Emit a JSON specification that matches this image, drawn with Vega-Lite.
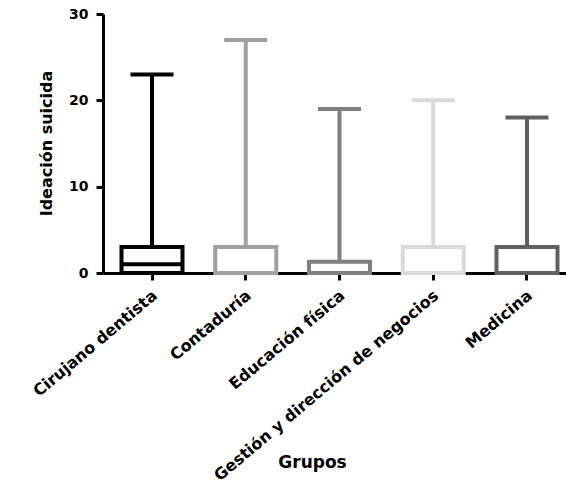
{
  "$schema": "https://vega.github.io/schema/vega-lite/v6.json",
  "width": 463,
  "height": 259,
  "autosize": {"type": "none"},
  "padding": {"left": 103, "top": 14, "right": 0, "bottom": 231},
  "background": "white",
  "config": {"view": {"stroke": null}, "font": "DejaVu Sans"},
  "data": {"values": [
    {"grupo": "Cirujano dentista", "q1": 0, "median": 1, "q3": 3, "max": 23},
    {"grupo": "Contaduría", "q1": 0, "median": 0, "q3": 3, "max": 27},
    {"grupo": "Educación física", "q1": 0, "median": 0, "q3": 1.3, "max": 19},
    {"grupo": "Gestión y dirección de negocios", "q1": 0, "median": 0, "q3": 3, "max": 20},
    {"grupo": "Medicina", "q1": 0, "median": 0, "q3": 3, "max": 18}
  ]},
  "encoding": {
    "x": {
      "field": "grupo", "type": "nominal", "sort": null,
      "scale": {"range": [0, 473], "paddingInner": 0, "paddingOuter": 0.0227},
      "axis": {
        "title": "Grupos", "titleFontSize": 17, "titleFontWeight": "bold", "titleColor": "black",
        "titleX": 209, "titleY": 189, "titleAlign": "center", "titleBaseline": "middle",
        "labelAngle": -40, "labelAlign": "right", "labelBaseline": "middle", "labelLimit": 500,
        "labelFontSize": 16, "labelFontWeight": "bold", "labelColor": "black", "labelPadding": 13, "labelOffset": 3,
        "domainColor": "black", "domainWidth": 3, "tickColor": "black", "tickWidth": 3, "tickSize": 7,
        "grid": false
      }
    }
  },
  "layer": [
    {
      "mark": {"type": "rule", "strokeWidth": 4},
      "encoding": {
        "y": {"field": "q3", "type": "quantitative",
          "scale": {"domain": [0, 30], "nice": false},
          "axis": {
            "title": "Ideación suicida", "titleFontSize": 16, "titleFontWeight": "bold", "titleColor": "black",
            "titleX": -57, "titleY": 129, "titleAlign": "center", "titleBaseline": "middle", "titleAngle": -90,
            "values": [0, 10, 20, 30],
            "labelFontSize": 14, "labelFontWeight": "bold", "labelColor": "black", "labelPadding": 8,
            "domainColor": "black", "domainWidth": 3, "tickColor": "black", "tickWidth": 3, "tickSize": 7,
            "grid": false
          }
        },
        "y2": {"field": "max"},
        "color": {"field": "grupo", "type": "nominal", "sort": null,
          "scale": {"domain": ["Cirujano dentista", "Contaduría", "Educación física", "Gestión y dirección de negocios", "Medicina"],
            "range": ["#000000", "#a0a0a0", "#808080", "#d9d9d9", "#606060"]}, "legend": null}
      }
    },
    {
      "mark": {"type": "bar", "fill": "white", "strokeWidth": 4, "width": 61},
      "encoding": {
        "y": {"field": "q1", "type": "quantitative"},
        "y2": {"field": "q3"},
        "stroke": {"field": "grupo", "type": "nominal", "sort": null,
          "scale": {"domain": ["Cirujano dentista", "Contaduría", "Educación física", "Gestión y dirección de negocios", "Medicina"],
            "range": ["#000000", "#a0a0a0", "#808080", "#d9d9d9", "#606060"]}, "legend": null}
      }
    },
    {
      "mark": {"type": "tick", "size": 61, "thickness": 4, "opacity": 1},
      "encoding": {
        "y": {"field": "median", "type": "quantitative"},
        "color": {"field": "grupo", "type": "nominal", "sort": null, "legend": null}
      }
    },
    {
      "mark": {"type": "tick", "size": 43, "thickness": 4, "opacity": 1},
      "encoding": {
        "y": {"field": "max", "type": "quantitative"},
        "color": {"field": "grupo", "type": "nominal", "sort": null, "legend": null}
      }
    }
  ]
}
